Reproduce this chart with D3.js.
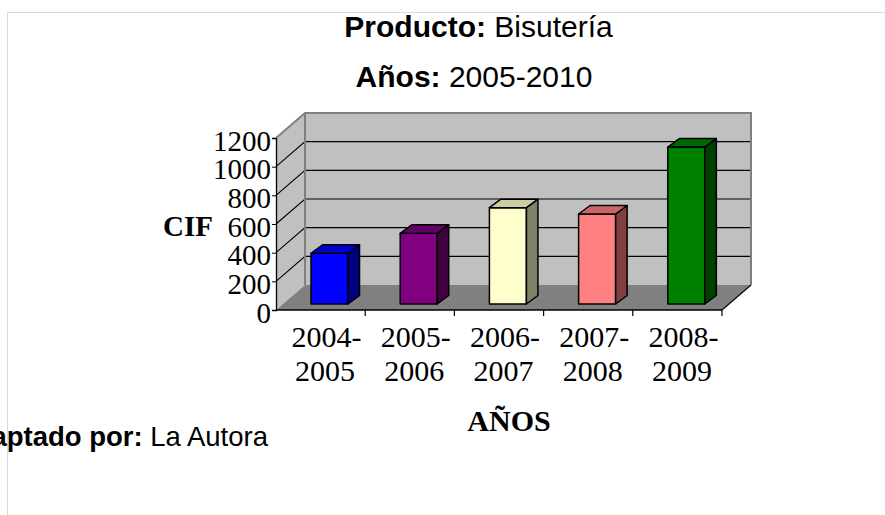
<!DOCTYPE html>
<html>
<head>
<meta charset="utf-8">
<script src="https://cdn.jsdelivr.net/npm/d3@7/dist/d3.min.js"></script>
<style>
  html, body { margin: 0; padding: 0; background: #fff; }
  svg { display: block; }
</style>
</head>
<body>
<svg id="chart" width="885" height="515"></svg>
<script>
// ---- data ----
const categories = ["2004-2005", "2005-2006", "2006-2007", "2007-2008", "2008-2009"];
const values = [354, 493, 672, 628, 1095];
const barColors = ["#0000FF", "#800080", "#FFFFCC", "#FF8080", "#008000"];
const yTicks = [0, 200, 400, 600, 800, 1000, 1200];
const titleLines = [["Producto:", " Bisutería"], ["Años:", " 2005-2010"]];
const yAxisTitle = "CIF";
const xAxisTitle = "AÑOS";
const footnote = ["Adaptado por:", " La Autora"];

// ---- layout ----
const svg = d3.select("#chart");
const front = { left: 276, right: 722, bottom: 310 };
const depth = { dx: 29, dy: -25 };
const x = d3.scaleBand().domain(categories).range([front.left, front.right]);
const y = d3.scaleLinear().domain([0, 1200]).range([front.bottom, front.bottom - 172]);

// page border
svg.append("line").attr("x1", 7).attr("x2", 885).attr("y1", 12.5).attr("y2", 12.5)
  .attr("stroke", "#d9d9d9").attr("stroke-width", 1);
svg.append("line").attr("x1", 7.5).attr("x2", 7.5).attr("y1", 12).attr("y2", 515)
  .attr("stroke", "#d9d9d9").attr("stroke-width", 1);

const pt = (px, py) => px + "," + py;
const y0 = y(0), yTop = y(1200);
const bx0 = front.left + depth.dx, bx1 = front.right + depth.dx;

// back wall
svg.append("polygon")
  .attr("points", [pt(bx0, y0 + depth.dy), pt(bx1, y0 + depth.dy), pt(bx1, yTop + depth.dy), pt(bx0, yTop + depth.dy)].join(" "))
  .attr("fill", "#c0c0c0");
// left wall
svg.append("polygon")
  .attr("points", [pt(front.left, y0), pt(bx0, y0 + depth.dy), pt(bx0, yTop + depth.dy), pt(front.left, yTop)].join(" "))
  .attr("fill", "#c0c0c0");
// floor
svg.append("polygon")
  .attr("points", [pt(front.left, y0), pt(front.right, y0), pt(bx1, y0 + depth.dy), pt(bx0, y0 + depth.dy)].join(" "))
  .attr("fill", "#808080");

// gridlines
yTicks.filter(v => v > 0 && v < 1200).forEach(v => {
  svg.append("path")
    .attr("d", `M${front.left},${y(v)} L${bx0},${y(v) + depth.dy} L${bx1},${y(v) + depth.dy}`)
    .attr("fill", "none").attr("stroke", "#000").attr("stroke-width", 1.1);
});

// wall borders (grey)
svg.append("path")
  .attr("d", `M${front.left},${yTop} L${bx0},${yTop + depth.dy} L${bx1},${yTop + depth.dy} L${bx1},${y0 + depth.dy}`)
  .attr("fill", "none").attr("stroke", "#808080").attr("stroke-width", 2);
svg.append("line")
  .attr("x1", bx0).attr("x2", bx0).attr("y1", yTop + depth.dy).attr("y2", y0 + depth.dy)
  .attr("stroke", "#808080").attr("stroke-width", 2);

// floor edges
svg.append("path")
  .attr("d", `M${front.right},${y0} L${bx1},${y0 + depth.dy}`)
  .attr("fill", "none").attr("stroke", "#000").attr("stroke-width", 1.1);

// bars
const bw = x.bandwidth();
const fz = { dx: 7, dy: -6 };       // front face offset
const bz = { dx: 18.5, dy: -14.5 }; // back face offset
const scaleColor = (c, k) => { const r = d3.rgb(c); return d3.rgb(r.r * k, r.g * k, r.b * k).formatHex(); };

const bars = svg.append("g").selectAll("g").data(categories).join("g");
bars.each(function (cat, i) {
  const g = d3.select(this);
  const xl = x(cat) + bw * 0.314;
  const xr = xl + bw * 0.415;
  const yb = y(0), yt = y(values[i]);
  const c = barColors[i];
  // front
  g.append("polygon")
    .attr("points", [pt(xl + fz.dx, yb + fz.dy), pt(xr + fz.dx, yb + fz.dy), pt(xr + fz.dx, yt + fz.dy), pt(xl + fz.dx, yt + fz.dy)].join(" "))
    .attr("fill", c);
  // side
  g.append("polygon")
    .attr("points", [pt(xr + fz.dx, yb + fz.dy), pt(xr + bz.dx, yb + bz.dy), pt(xr + bz.dx, yt + bz.dy), pt(xr + fz.dx, yt + fz.dy)].join(" "))
    .attr("fill", scaleColor(c, 0.5));
  // top
  g.append("polygon")
    .attr("points", [pt(xl + fz.dx, yt + fz.dy), pt(xr + fz.dx, yt + fz.dy), pt(xr + bz.dx, yt + bz.dy), pt(xl + bz.dx, yt + bz.dy)].join(" "))
    .attr("fill", scaleColor(c, 0.8));
  g.selectAll("polygon").attr("stroke", "#000").attr("stroke-width", 1.5).attr("stroke-linejoin", "round");
});

// value axis (front left)
const yAxis = svg.append("g")
  .attr("transform", `translate(${front.left},0)`)
  .call(d3.axisLeft(y).tickValues(yTicks).tickSize(4).tickPadding(1).tickFormat(d3.format("d")));
yAxis.select(".domain").attr("stroke", "#000").attr("stroke-width", 1.3);
yAxis.selectAll(".tick line").attr("stroke", "#000");
yAxis.selectAll(".tick text")
  .attr("font-family", "'Liberation Serif', 'Times New Roman', serif")
  .attr("font-size", 29).attr("fill", "#000").attr("dy", "0.42em");

// category axis
svg.append("line").attr("x1", front.left).attr("x2", front.right).attr("y1", y0).attr("y2", y0)
  .attr("stroke", "#000").attr("stroke-width", 1.5);
svg.append("g").selectAll("line").data(categories).join("line")
  .attr("x1", d => x(d) + bw).attr("x2", d => x(d) + bw)
  .attr("y1", y0).attr("y2", y0 + 6)
  .attr("stroke", "#000").attr("stroke-width", 1.2);

const catText = svg.append("g").selectAll("text").data(categories).join("text")
  .attr("text-anchor", "middle")
  .attr("font-family", "'Liberation Serif', 'Times New Roman', serif")
  .attr("font-size", 30).attr("fill", "#000");
catText.append("tspan")
  .attr("x", d => x(d) + bw / 2 + 6).attr("y", 347)
  .text(d => d.split("-")[0] + "-");
catText.append("tspan")
  .attr("x", d => x(d) + bw / 2 + 4.5).attr("y", 381)
  .text(d => d.split("-")[1]);

// axis titles
svg.append("text").attr("x", 213).attr("y", 236).attr("text-anchor", "end")
  .attr("font-family", "'Liberation Serif', 'Times New Roman', serif")
  .attr("font-size", 29).attr("font-weight", "bold").text(yAxisTitle);
svg.append("text").attr("x", 509).attr("y", 431).attr("text-anchor", "middle")
  .attr("font-family", "'Liberation Serif', 'Times New Roman', serif")
  .attr("font-size", 30).attr("font-weight", "bold").text(xAxisTitle);

// titles
const titlePos = [[478.5, 37], [474, 87]];
titleLines.forEach((tl, i) => {
  const t = svg.append("text").attr("x", titlePos[i][0]).attr("y", titlePos[i][1])
    .attr("text-anchor", "middle")
    .attr("font-family", "'Liberation Sans', Arial, sans-serif")
    .attr("font-size", 30).attr("fill", "#000");
  t.append("tspan").attr("font-weight", "bold").text(tl[0]);
  t.append("tspan").text(tl[1]);
});

// footnote (its start is cut off by the left edge, as in the reference)
const fn = svg.append("text").attr("x", 268).attr("y", 446).attr("text-anchor", "end")
  .attr("font-family", "'Liberation Sans', Arial, sans-serif")
  .attr("font-size", 27.5).attr("fill", "#000");
fn.append("tspan").attr("font-weight", "bold").text(footnote[0]);
fn.append("tspan").text(footnote[1]);
</script>
</body>
</html>
